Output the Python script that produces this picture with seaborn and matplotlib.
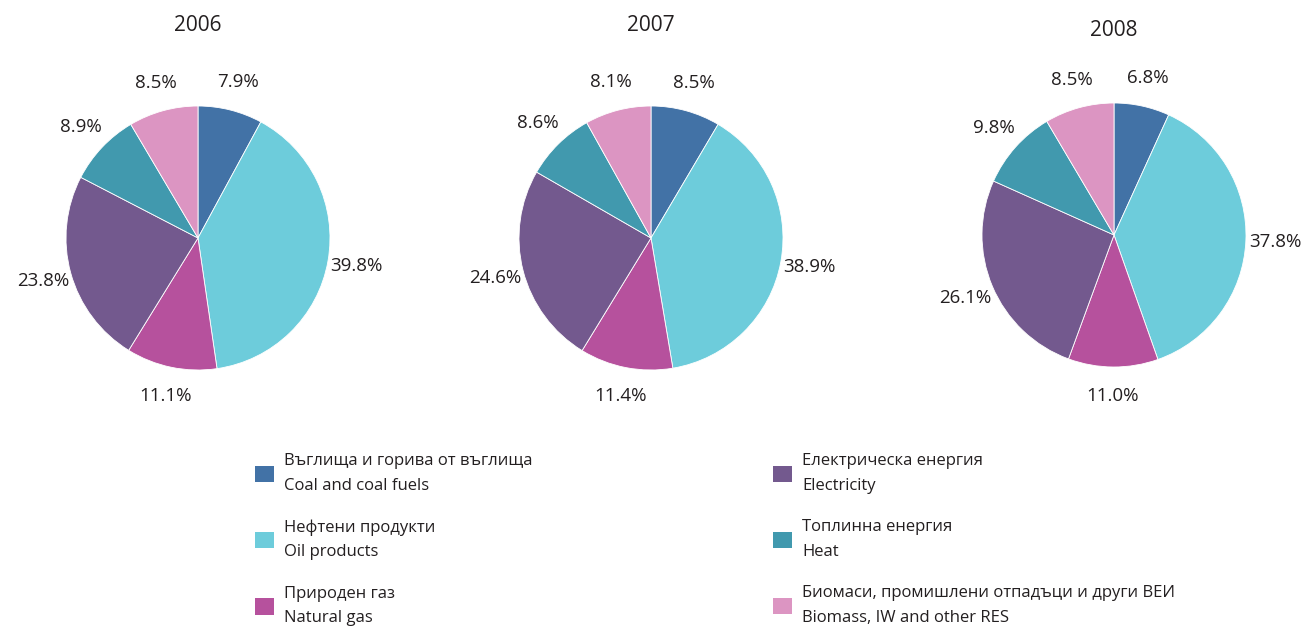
import matplotlib
matplotlib.use("Agg")
import matplotlib.pyplot as plt
from matplotlib.patches import Patch
import seaborn as sns

# data
years = ["2006", "2007", "2008"]
coal = [7.9, 8.5, 6.8]
oil = [39.8, 38.9, 37.8]
gas = [11.1, 11.4, 11.0]
electricity = [23.8, 24.6, 26.1]
heat = [8.9, 8.6, 9.8]
biomass = [8.5, 8.1, 8.5]

labels_bg = ["Въглища и горива от въглища", "Нефтени продукти", "Природен газ",
             "Електрическа енергия", "Топлинна енергия",
             "Биомаси, промишлени отпадъци и други ВЕИ"]
labels_en = ["Coal and coal fuels", "Oil products", "Natural gas",
             "Electricity", "Heat", "Biomass, IW and other RES"]

colors = sns.color_palette(["#4272a6", "#6dccdb", "#b6519d",
                            "#73598e", "#4199ae", "#dc95c2"])

sns.set_theme(style="white")
plt.rcParams["font.family"] = ["Open Sans", "DejaVu Sans"]
plt.rcParams["text.color"] = "#231f20"

W, H = 1311, 628
fig = plt.figure(figsize=(W / 100, H / 100), dpi=100)

# pie centres (pixels from top-left) and radius
centres = [(198, 238), (651, 238), (1114, 235)]
R = 132
title_y = [1.61, 1.61, 1.55]
L = 1.6

for i, year in enumerate(years):
    cx, cy = centres[i]
    ax = fig.add_axes([(cx - L * R) / W, (H - cy - L * R) / H,
                       2 * L * R / W, 2 * L * R / H])
    vals = [coal[i], oil[i], gas[i], electricity[i], heat[i], biomass[i]]
    wedges, texts = ax.pie(vals, colors=colors, startangle=90, counterclock=False,
                           labels=[f"{v:.1f}%" for v in vals], labeldistance=1.22,
                           wedgeprops=dict(edgecolor="white", linewidth=0.6),
                           textprops=dict(fontsize=13.5, color="#231f20"))
    for t in texts:
        t.set_horizontalalignment("center")
    ax.set_xlim(-L, L)
    ax.set_ylim(-L, L)
    ax.set_aspect("equal")
    ax.axis("off")
    ax.text(0, title_y[i], year, ha="center", va="center", fontsize=15)

handles = [Patch(facecolor=c, edgecolor="none") for c in colors]
texts = [f"{b}\n{e}" for b, e in zip(labels_bg, labels_en)]

for col, x0 in enumerate([255, 773]):
    leg = fig.legend(handles[col * 3:col * 3 + 3], texts[col * 3:col * 3 + 3],
                     loc="upper left", bbox_to_anchor=(x0 / W, (H - 453) / H),
                     frameon=False, fontsize=12, handlelength=1.15, handleheight=1.15,
                     handletextpad=0.6, labelspacing=1.5, borderpad=0, borderaxespad=0)
    for t in leg.get_texts():
        t.set_linespacing(1.75)

fig.savefig("out.png", dpi=100)
